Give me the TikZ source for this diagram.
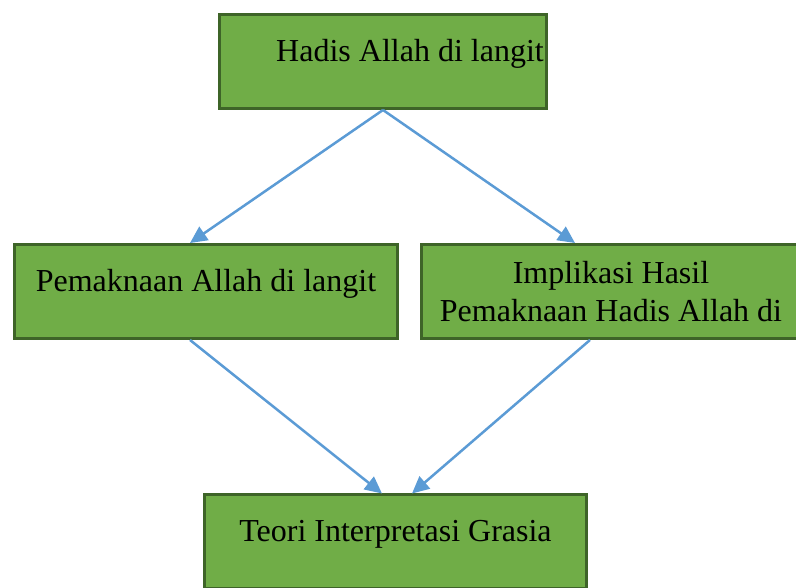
\documentclass[tikz,border=0pt]{standalone}
\usepackage{fontspec}
\setmainfont{Liberation Serif}
\usetikzlibrary{positioning,arrows.meta}
\definecolor{boxgreen}{HTML}{70AD47}
\definecolor{boxedge}{HTML}{3E6428}
\definecolor{arrowblue}{HTML}{5B9BD5}

\begin{document}
\begin{tikzpicture}[x=1pt,y=1pt,
		box/.style={draw=boxedge,
			fill=boxgreen,
			line width=3pt,
			minimum height=94pt,
			inner sep=0pt,
			align=center,
			font=\fontsize{32}{38}\selectfont,
		},
		oneline/.style={text height=22pt, text depth=22pt},
		line/.style={draw=arrowblue, line width=2.5pt, -{Triangle[length=17pt,width=16pt]}},
		]

		\clip (0,0) rectangle (796,588);
		\node (judul) [box, oneline, minimum width=327pt] at (383,526.5) {\hspace*{54pt}Hadis Allah di langit};
		\node (makna) [box, oneline, minimum width=383pt] at (206,296.5) {Pemaknaan Allah di langit};
		\node (implikasi) [box, minimum width=379pt, right = 21pt of makna] {Implikasi Hasil\\Pemaknaan Hadis Allah di};
		\node (teori) [box, oneline, minimum width=382pt] at (395.5,46) {Teori Interpretasi Grasia};
		\draw[line] (judul.south) -- ([xshift=-16pt]makna.north);
		\draw[line] (judul.south) -- ([xshift=-36pt]implikasi.north);
		\draw[line] ([xshift=-16pt]makna.south) -- ([xshift=-13.5pt]teori.north);
		\draw[line] ([xshift=-21pt]implikasi.south) -- ([xshift=16.5pt]teori.north);

	\end{tikzpicture}
\end{document}
